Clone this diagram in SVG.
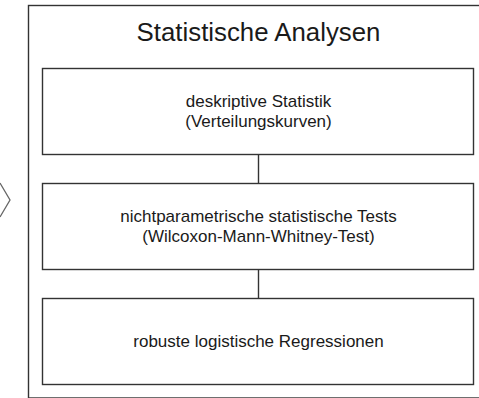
<svg xmlns="http://www.w3.org/2000/svg" width="479" height="398" viewBox="0 0 479 398">
<style>
.box{fill:#fff;stroke:#333;stroke-width:1.4}
.t{font-family:"Liberation Sans",Arial,sans-serif;font-size:17px;fill:#1a1a1a;text-anchor:middle}
.title{font-family:"Liberation Sans",Arial,sans-serif;font-size:25.8px;fill:#1a1a1a;text-anchor:middle}
.c{stroke:#333;stroke-width:1.4;fill:none}
</style>
<rect width="479" height="398" fill="#fff"/>
<g id="chevron"><polyline points="0,183 10,200 0,217" fill="none" stroke="#666" stroke-width="1.3"/></g>
<g id="container">
<rect class="box" x="28.5" y="5.5" width="460" height="392.5"/>
<text class="title" x="258.5" y="41">Statistische Analysen</text>
</g>
<g id="connectors">
<line class="c" x1="258.5" y1="154.5" x2="258.5" y2="183.5"/>
<line class="c" x1="258.5" y1="269.5" x2="258.5" y2="298.5"/>
</g>
<g id="node1">
<rect class="box" x="42.5" y="68.5" width="431" height="86"/>
<text class="t" x="258.5" y="107">deskriptive Statistik</text>
<text class="t" x="258.5" y="127">(Verteilungskurven)</text>
</g>
<g id="node2">
<rect class="box" x="42.5" y="183.5" width="431" height="86"/>
<text class="t" x="258.5" y="222">nichtparametrische statistische Tests</text>
<text class="t" x="258.5" y="242">(Wilcoxon-Mann-Whitney-Test)</text>
</g>
<g id="node3">
<rect class="box" x="42.5" y="298.5" width="431" height="86"/>
<text class="t" x="258.5" y="347">robuste logistische Regressionen</text>
</g>
</svg>
